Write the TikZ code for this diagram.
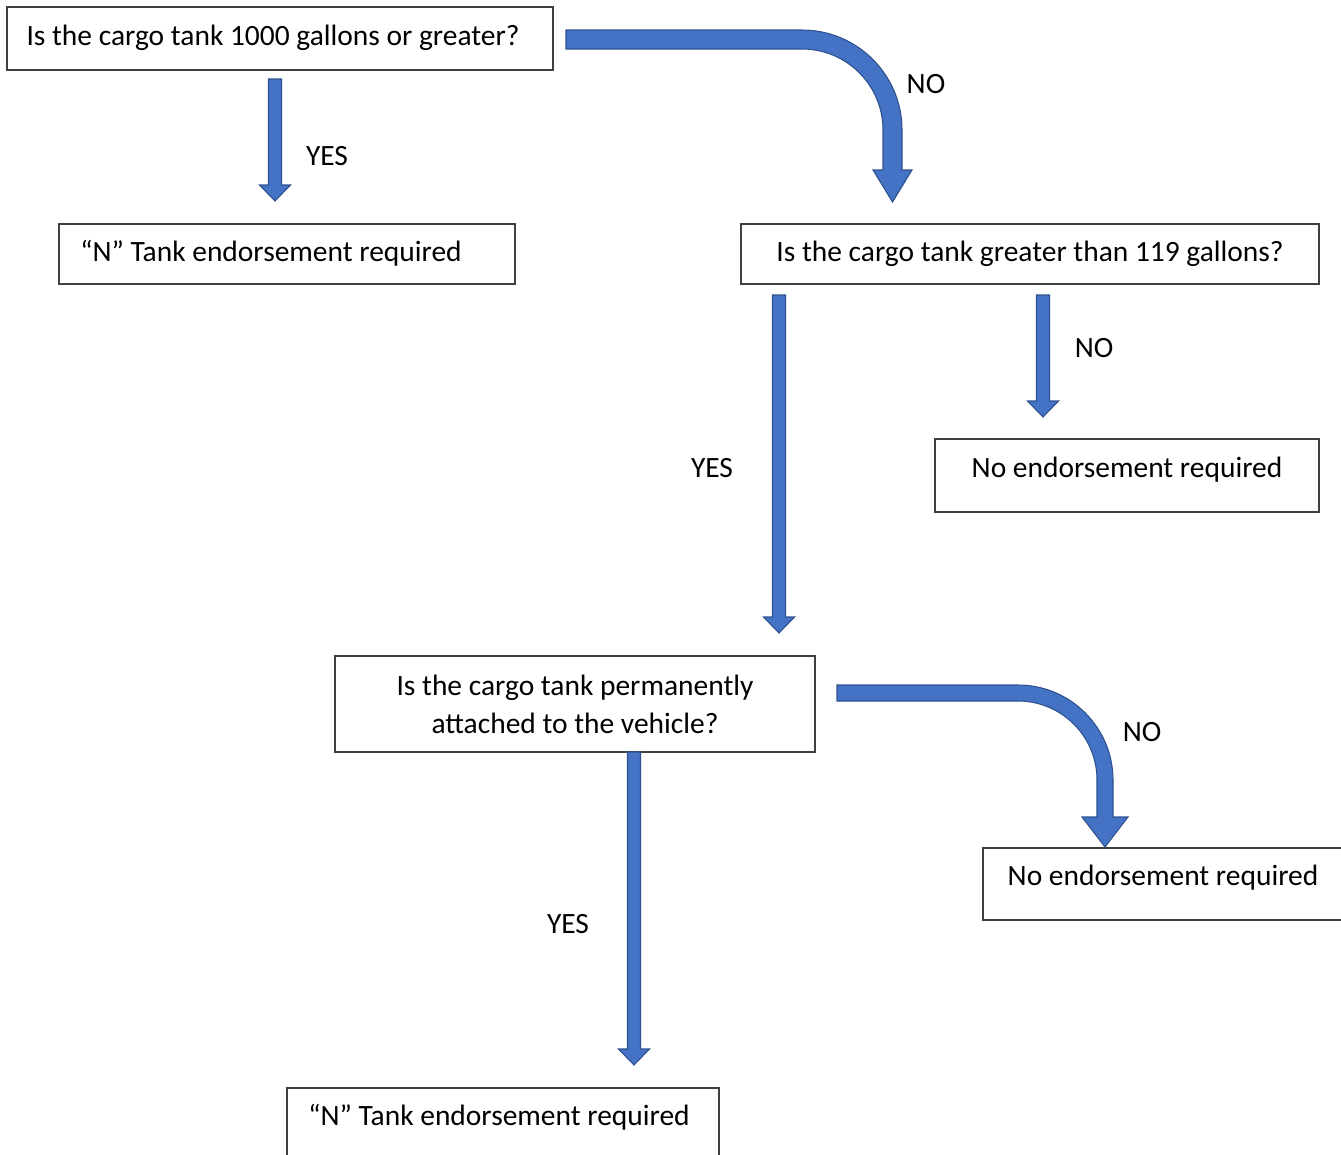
\documentclass[tikz,border=0pt]{standalone}
\usepackage{fontspec}
\setmainfont{Carlito}
\usetikzlibrary{calc}
\definecolor{afill}{HTML}{4472C4}
\definecolor{aline}{HTML}{2F528F}
\definecolor{bline}{HTML}{404040}
\tikzset{
  box/.style={draw=bline, line width=1pt, anchor=north west, outer sep=0pt, inner sep=0pt},
  txt/.style={anchor=base, inner sep=0pt, font=\fontsize{22.1}{28}\selectfont},
  blockarrow/.style={fill=afill, draw=aline, line width=0.8pt, line join=miter}
}
\newcommand\varrow[2]{%
  \filldraw[blockarrow] ($(#1)+(-6.5,0)$) -- ($(#1)+(6.5,0)$) -- ($(#2)+(6.5,-16)$) -- ($(#2)+(15.5,-16)$) -- (#2) -- ($(#2)+(-15.5,-16)$) -- ($(#2)+(-6.5,-16)$) -- cycle;}
\begin{document}
\begin{tikzpicture}[x=0.75pt,y=-0.75pt]
\useasboundingbox (0,0) rectangle (1341,1154);
% boxes
\node[box, minimum width=409.5pt, minimum height=47.25pt] (b1) at (7,7) {};
\node[box, minimum width=342pt, minimum height=45pt] (b2) at (59,224) {};
\node[box, minimum width=433.5pt, minimum height=45pt] (b3) at (741,224) {};
\node[box, minimum width=288pt, minimum height=54.75pt] (b4) at (935,439) {};
\node[box, minimum width=360pt, minimum height=72pt] (b5) at (335,656) {};
\node[box, minimum width=275.25pt, minimum height=54pt] (b6) at (983,848) {};
\node[box, minimum width=324pt, minimum height=57.75pt] (b7) at (287,1088) {};
% texts
\node[txt] (t1) at (273,45.5) {Is the cargo tank 1000 gallons or greater?};
\node[txt] (t2) at (271,261.5) {“N” Tank endorsement required};
\node[txt] (t3) at (1030,261.5) {Is the cargo tank greater than 119 gallons?};
\node[txt] (t4) at (1127,477.5) {No endorsement required};
\node[txt] (t5a) at (575,695.5) {Is the cargo tank permanently};
\node[txt] (t5b) at (575,733) {attached to the vehicle?};
\node[txt] (t6) at (1163,885.5) {No endorsement required};
\node[txt] (t7) at (499,1125.5) {“N” Tank endorsement required};
% labels
\node[txt] (l1) at (327,165.5) {YES};
\node[txt] (l2) at (926,93) {NO};
\node[txt] (l3) at (1094,357.5) {NO};
\node[txt] (l4) at (712,477.5) {YES};
\node[txt] (l5) at (1142,741.5) {NO};
\node[txt] (l6) at (568,933.5) {YES};
% arrow end coordinates
\coordinate (a1s) at (275,79);  \coordinate (a1e) at (275,201);
\coordinate (a2s) at (779,295); \coordinate (a2e) at (779,633);
\coordinate (a3s) at (1043,295); \coordinate (a3e) at (1043,417);
\coordinate (a4s) at (634,752); \coordinate (a4e) at (634,1065);
\varrow{a1s}{a1e}
\varrow{a2s}{a2e}
\varrow{a3s}{a3e}
\varrow{a4s}{a4e}
% curved arrows
\filldraw[blockarrow] (566,30) -- (802,30) .. controls (857.2,30) and (902,74.8) .. (902,130)
  -- (902,170) -- (912,170) -- (892.5,202) -- (873,170) -- (883,170) -- (883,130)
  .. controls (883,85.3) and (846.7,49) .. (802,49) -- (566,49) -- cycle;
\filldraw[blockarrow] (837,685) -- (1018,685) .. controls (1070.4,685) and (1113,727.6) .. (1113,780)
  -- (1113,817) -- (1128,817) -- (1105,847) -- (1082,817) -- (1097,817) -- (1097,780)
  .. controls (1097,736.4) and (1061.6,701) .. (1018,701) -- (837,701) -- cycle;
\end{tikzpicture}
\end{document}
